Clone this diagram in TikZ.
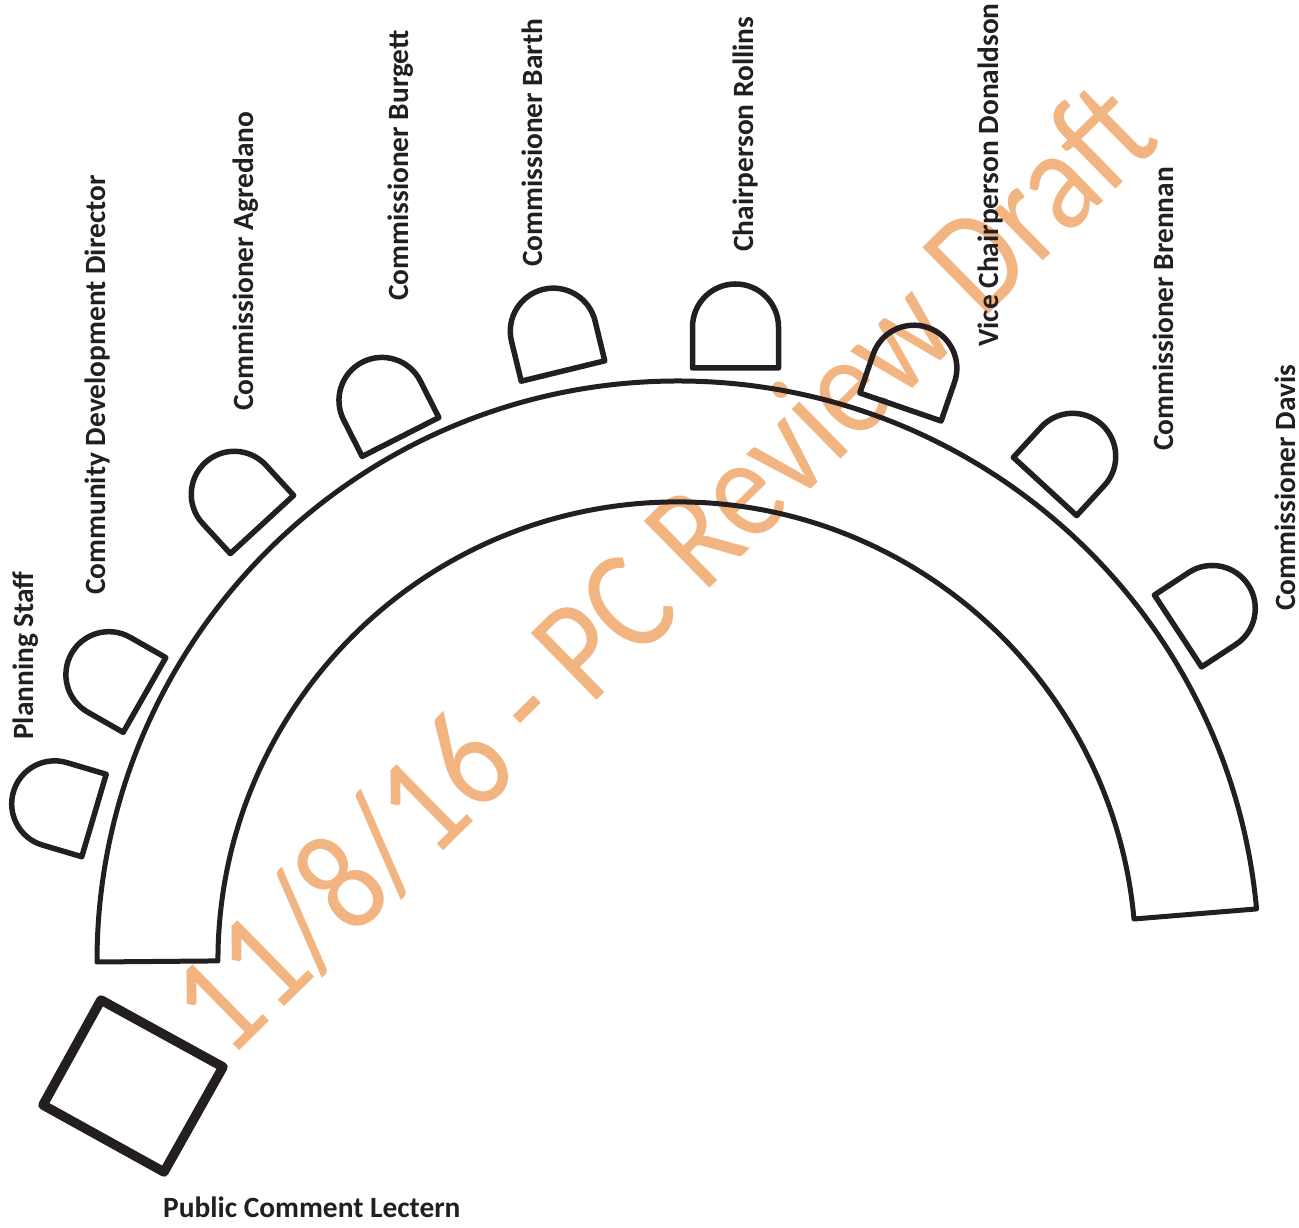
\documentclass[tikz,border=0pt]{standalone}
\usepackage{fontspec}
\setmainfont{Carlito}
\definecolor{ink}{HTML}{231F20}
\definecolor{mark}{HTML}{F2B581}
\tikzset{
  x=1pt,y=1pt,
  seatline/.style={draw=ink,line width=5.5pt,line join=round},
  tableline/.style={draw=ink,line width=5pt,line join=round},
  lecternline/.style={draw=ink,line width=9.5pt,line join=round},
  lab/.style={font=\fontsize{29.4}{32}\selectfont\bfseries,text=ink,inner sep=0pt,anchor=base west},
  vlab/.style={lab,rotate=90},
  seat/.pic={\path[seatline] (-43,0) -- (-43,41) arc[start angle=180,end angle=0,radius=43] -- (43,0) -- cycle;}
}
\begin{document}
\begin{tikzpicture}
\useasboundingbox (0,0) rectangle (1299,1228);
% watermark
\node[font=\fontsize{146}{150}\selectfont,text=mark,inner sep=0pt,anchor=base west,rotate=44.5,xscale=.855] (wm) at (228,1228-1062) {11/8/16 - PC Review Draft};
% table
\path[tableline] (97,1228-962) arc[start angle=180,end angle=5.24,radius=581] -- (1134,1228-919) arc[start angle=5.24,end angle=180,radius=459] -- cycle;
% seats
\pic[rotate=73.5] at (94,1228-815.5) {seat};
\pic[rotate=60.3] at (144.5,1228-695) {seat};
\pic[rotate=42.6] at (262,1228-524.5) {seat};
\pic[rotate=26.9] at (400.5,1228-437) {seat};
\pic[rotate=13.7] at (563,1228-371) {seat};
\pic at (735.5,1228-368) {seat};
\pic[rotate=-19] at (900.5,1228-407) {seat};
\pic[rotate=-42.6] at (1045,1228-486.5) {seat};
\pic[rotate=-56.7] at (1178,1228-631) {seat};
% lectern
\path[lecternline] (101,1228-1000) -- (223,1228-1067) -- (164,1228-1172) -- (43,1228-1105) -- cycle;
% labels
\node[vlab] (l1) at (34,1228-740) {Planning Staff};
\node[vlab] (l2) at (105,1228-595) {Community Development Director};
\node[vlab] (l3) at (253,1228-411) {Commissioner Agredano};
\node[vlab] (l4) at (408,1228-301) {Commissioner Burgett};
\node[vlab] (l5) at (542,1228-267) {Commissioner Barth};
\node[vlab] (l6) at (753,1228-252) {Chairperson Rollins};
\node[vlab] (l7) at (998,1228-347) {Vice Chairperson Donaldson};
\node[vlab] (l8) at (1173,1228-451) {Commissioner Brennan};
\node[vlab] (l9) at (1295,1228-611) {Commissioner Davis};
\node[lab] (l10) at (163,1228-1218) {Public Comment Lectern};
\end{tikzpicture}
\end{document}
